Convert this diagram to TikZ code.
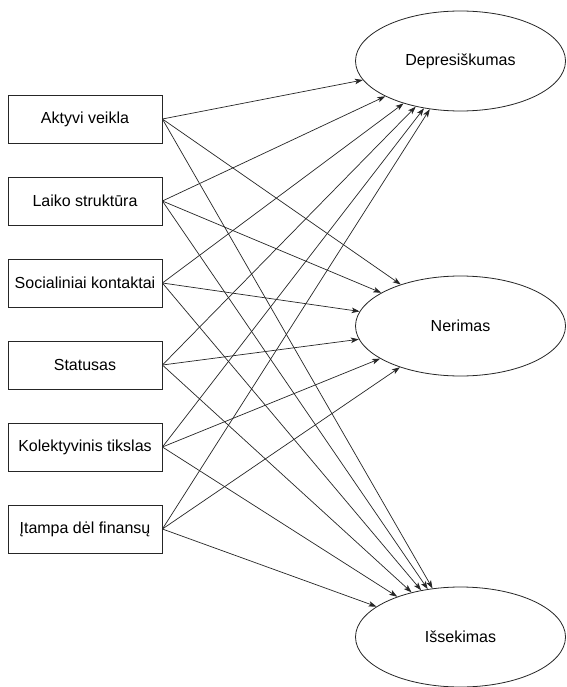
\documentclass[tikz,border=0pt]{standalone}
\usepackage{fontspec}
\setmainfont{Liberation Sans}
\usetikzlibrary{shapes.geometric,arrows.meta}
\begin{document}
\begin{tikzpicture}[x=1pt,y=-1pt,
  every node/.style={font=\fontsize{16}{19}\selectfont, text=black},
  factor/.style={draw=black!85, line width=0.8pt, rectangle, minimum width=154pt, minimum height=48pt, inner sep=0pt},
  outcome/.style={draw=black!85, line width=0.8pt, ellipse, minimum width=210pt, minimum height=100pt, inner sep=0pt},
  link/.style={draw=black!85, line width=0.7pt, -{Stealth[length=8pt,width=5.5pt,inset=2pt]}}]
\useasboundingbox (0,0) rectangle (566,687);
\fill[white] (0,0) rectangle (566,687);

% predictors
\node[factor] (a) at (85,119) {Aktyvi veikla};
\node[factor] (b) at (85,201) {Laiko struktūra};
\node[factor] (c) at (85,283) {Socialiniai kontaktai};
\node[factor] (d) at (85,365) {Statusas};
\node[factor] (e) at (85,447) {Kolektyvinis tikslas};
\node[factor] (f) at (85,529) {Įtampa dėl finansų};

% outcomes
\node[outcome] (dep) at (460.5,61) {Depresiškumas};
\node[outcome] (ner) at (460.5,326) {Nerimas};
\node[outcome] (iss) at (460.5,637) {Išsekimas};

% every predictor points to every outcome
\foreach \s in {a,b,c,d,e,f}{
  \foreach \t in {dep,ner,iss}{
    \draw[link] (\s.east) -- (\t);
  }
}
\end{tikzpicture}
\end{document}
